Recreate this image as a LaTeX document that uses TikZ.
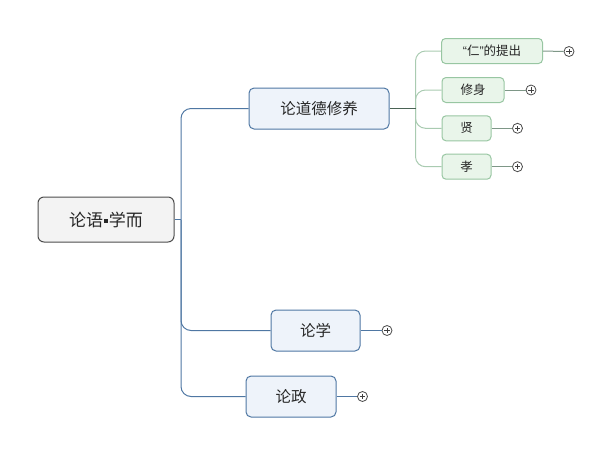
\documentclass[tikz,border=0pt]{standalone}
\usepackage{fontspec}
\setmainfont{Noto Sans CJK SC}
\newfontfamily\quotefont{Liberation Sans}
\usetikzlibrary{positioning}
\definecolor{rootfill}{HTML}{F3F3F3}
\definecolor{rootdraw}{HTML}{4D4D4D}
\definecolor{mainfill}{HTML}{EEF3FA}
\definecolor{maindraw}{HTML}{4F77A3}
\definecolor{subfill}{HTML}{E9F5EA}
\definecolor{subdraw}{HTML}{98C6A2}
\definecolor{subline}{HTML}{A9CBB1}
\definecolor{stemline}{HTML}{4A6355}
\definecolor{tipline}{HTML}{7E9787}
\newcommand{\sq}{\hspace{0.06em}\rule[0.2em]{0.22em}{0.22em}\hspace{0.06em}}

\begin{document}
\begin{tikzpicture}[
      x = 1pt, y = -1pt,
      every node/.style = {inner sep = 0pt, text = black!85},
      rootbox/.style = {draw = rootdraw, fill = rootfill, line width = 1pt, rounded corners = 6pt,
                        font = \fontsize{17}{20}\selectfont},
      mainbox/.style = {draw = maindraw, fill = mainfill, line width = 1pt, rounded corners = 5pt,
                        minimum height = 41pt, font = \fontsize{15.5}{18}\selectfont},
      subbox/.style = {draw = subdraw, fill = subfill, line width = 1pt, rounded corners = 4pt,
                       minimum height = 25pt, font = \fontsize{12.5}{15}\selectfont},
      mainline/.style = {draw = maindraw, line width = 1pt, rounded corners = 10pt},
      subline/.style = {draw = subline, line width = 1pt, rounded corners = 10pt},
      plus/.style = {circle, draw = black!70, fill = white, line width = 0.8pt, minimum size = 10pt,
                     path picture = {
                       \draw[black!75, line width = 0.8pt]
                         ([xshift = -2.6pt]path picture bounding box.center) --
                         ([xshift = 2.6pt]path picture bounding box.center)
                         ([yshift = -2.6pt]path picture bounding box.center) --
                         ([yshift = 2.6pt]path picture bounding box.center);}}]

      \useasboundingbox (0,0) rectangle (613,456);

      % root and main topics
      \node [rootbox, minimum width = 136pt, minimum height = 45pt] (root) at (106,219.5) {论语\sq 学而};
      \node [mainbox, minimum width = 140pt] (dao) at (319,108.5) {论道德修养};
      \node [mainbox, minimum width = 89pt] (xue) at (315.5,330.5) {论学};
      \node [mainbox, minimum width = 90pt] (zheng) at (291,396.5) {论政};

      \coordinate (hub) at (181,219.5);
      \draw [mainline] (root.east) -- (hub);
      \draw [mainline] (hub) |- (dao.west);
      \draw [mainline] (hub) |- (xue.west);
      \draw [mainline] (hub) |- (zheng.west);

      \node [plus] (xueplus) at (387,330.5) {};
      \node [plus] (zhengplus) at (362.5,396.5) {};
      \draw [mainline] (xue.east) -- (xueplus.west);
      \draw [mainline] (zheng.east) -- (zhengplus.west);

      % sub topics
      \node [subbox, minimum width = 101pt] (ren) at (492,51) {{\quotefont “}仁{\quotefont ”}的提出};
      \node [subbox, minimum width = 62pt] (xiu) at (473,90) {修身};
      \node [subbox, minimum width = 49pt] (xian) at (466.5,128.3) {贤};
      \node [subbox, minimum width = 49pt] (xiao) at (466.5,166.7) {孝};

      \coordinate (subhub) at (415.5,108.5);
      \foreach \n in {ren, xiu, xian, xiao}
        \draw [subline] (subhub) |- (\n.west);
      \draw [subline, draw = stemline] (dao.east) -- (subhub);

      \node [plus] (renplus) at (569,51.5) {};
      \node [plus] (xiuplus) at (531,90) {};
      \node [plus] (xianplus) at (517.5,128.3) {};
      \node [plus] (xiaoplus) at (517.5,166.7) {};
      \foreach \n in {ren, xiu, xian, xiao}
        \draw [subline, draw = tipline] (\n.east) -- (\n plus.west);
  \end{tikzpicture}
\end{document}
